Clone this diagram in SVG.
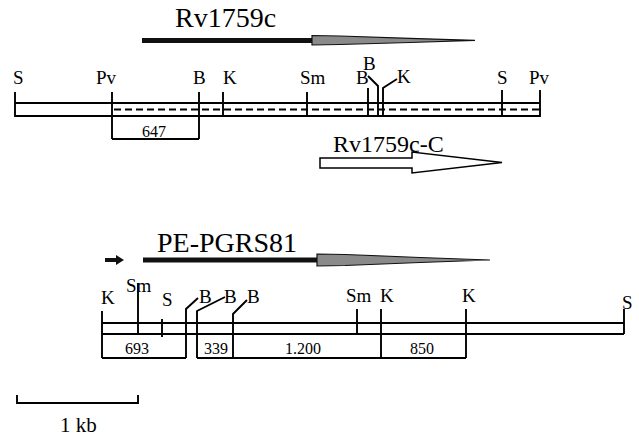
<svg xmlns="http://www.w3.org/2000/svg" width="639" height="438" viewBox="0 0 639 438">
<style>
text{font-family:"Liberation Serif","Times New Roman",serif;fill:#000}
.lbl{font-size:19px}
.num{font-size:16px;text-anchor:middle}
.big{font-size:28px}
.ln{stroke:#000;stroke-width:1.9;fill:none}
.dash{stroke:#000;stroke-width:2.2;stroke-dasharray:7 4;fill:none}
.bar{fill:#111}
.spindle{fill:#8a8a8a;stroke:#111;stroke-width:1.2}
</style>
<rect width="639" height="438" fill="#fff"/>

<g id="gene-Rv1759c">
<text class="big" x="175" y="27">Rv1759c</text>
<rect class="bar" x="142" y="38" width="172" height="5"/>
<polygon class="spindle" points="312,35.5 340,36 410,38.3 475,40.3 410,42.5 340,44.5 312,45"/>
</g>

<g id="map-top">
<line class="ln" x1="15" y1="103" x2="540" y2="103"/>
<line class="ln" x1="15" y1="116" x2="540" y2="116"/>
<line class="dash" x1="114" y1="109.5" x2="540" y2="109.5"/>
<line class="ln" x1="15" y1="92" x2="15" y2="117"/>
<line class="ln" x1="112" y1="92" x2="112" y2="139"/>
<line class="ln" x1="199" y1="92" x2="199" y2="139"/>
<line class="ln" x1="223" y1="92" x2="223" y2="117"/>
<line class="ln" x1="307" y1="92" x2="307" y2="117"/>
<line class="ln" x1="368" y1="88" x2="368" y2="117"/>
<polyline class="ln" points="368,76 378,86 378,117"/>
<polyline class="ln" points="397,79 383,88 383,117"/>
<line class="ln" x1="502" y1="90" x2="502" y2="117"/>
<line class="ln" x1="540" y1="90" x2="540" y2="117"/>
<line class="ln" x1="112" y1="139" x2="199" y2="139"/>
<text class="lbl" x="13" y="84">S</text>
<text class="lbl" x="96" y="84">Pv</text>
<text class="lbl" x="193" y="84">B</text>
<text class="lbl" x="223" y="84">K</text>
<text class="lbl" x="300" y="84">Sm</text>
<text class="lbl" x="356" y="84">B</text>
<text class="lbl" x="363" y="70">B</text>
<text class="lbl" x="397" y="83">K</text>
<text class="lbl" x="497" y="84">S</text>
<text class="lbl" x="529" y="84">Pv</text>
<text class="num" x="154" y="137">647</text>
</g>

<g id="gene-Rv1759c-C">
<polygon points="320,158 412,158 412,152 502,162.5 412,173 412,168 320,168" fill="#fff" stroke="#000" stroke-width="1.5"/>
<text x="333" y="152" style="font-size:24px">Rv1759c-C</text>
</g>

<g id="gene-PE-PGRS81">
<text class="big" x="157" y="252">PE-PGRS81</text>
<polygon class="bar" points="105,258 116,258 116,255 124,260 116,265 116,262 105,262"/>
<rect class="bar" x="143" y="257.5" width="176" height="5"/>
<polygon class="spindle" points="317,254 345,254.5 420,257.5 490,260 420,262.5 345,265.5 317,266"/>
</g>

<g id="map-bottom">
<line class="ln" x1="102" y1="323" x2="624" y2="323"/>
<line class="ln" x1="102" y1="334" x2="624" y2="334"/>
<line class="ln" x1="102" y1="311" x2="102" y2="358"/>
<line class="ln" x1="138" y1="283" x2="138" y2="334"/>
<line class="ln" x1="162" y1="319" x2="162" y2="337"/>
<polyline class="ln" points="198,298 186,309 186,358"/>
<polyline class="ln" points="225,297 197,311 197,358"/>
<polyline class="ln" points="247,300 233,314 233,358"/>
<line class="ln" x1="357" y1="309" x2="357" y2="334"/>
<line class="ln" x1="381" y1="309" x2="381" y2="358"/>
<line class="ln" x1="466" y1="309" x2="466" y2="358"/>
<line class="ln" x1="624" y1="309" x2="624" y2="334"/>
<line class="ln" x1="102" y1="358" x2="186" y2="358"/>
<line class="ln" x1="197" y1="358" x2="466" y2="358"/>
<text class="lbl" x="101" y="304">K</text>
<text class="lbl" x="126" y="292">Sm</text>
<text class="lbl" x="162" y="306">S</text>
<text class="lbl" x="199" y="303">B</text>
<text class="lbl" x="224" y="303">B</text>
<text class="lbl" x="247" y="303">B</text>
<text class="lbl" x="346" y="302">Sm</text>
<text class="lbl" x="380" y="302">K</text>
<text class="lbl" x="462" y="302">K</text>
<text class="lbl" x="622" y="309">S</text>
<text class="num" x="137" y="354">693</text>
<text class="num" x="216" y="354">339</text>
<text class="num" x="303" y="354">1.200</text>
<text class="num" x="422" y="354">850</text>
</g>

<g id="scale-bar">
<polyline class="ln" points="17,395 17,403 138,403 138,395"/>
<text x="60" y="432" style="font-size:21px">1 kb</text>
</g>
</svg>
